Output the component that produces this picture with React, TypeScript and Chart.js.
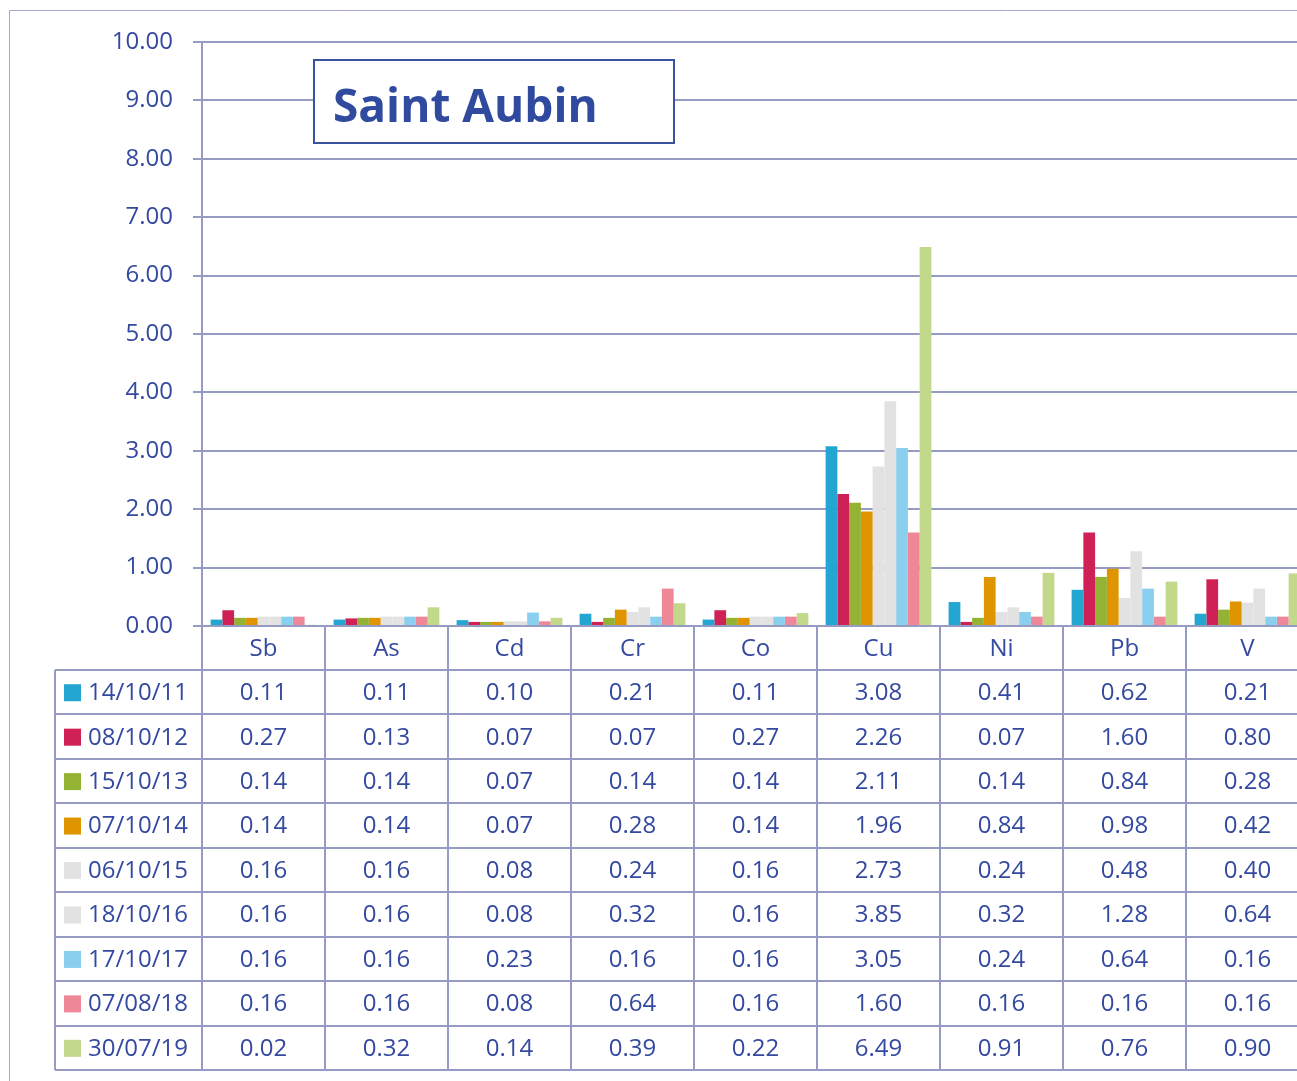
import React, { useEffect, useRef } from "react";
import { Chart, registerables } from "chart.js";
Chart.register(...registerables);

const title = "Saint Aubin";
const categories = ["Sb", "As", "Cd", "Cr", "Co", "Cu", "Ni", "Pb", "V"];
const seriesLabels = ["14/10/11", "08/10/12", "15/10/13", "07/10/14", "06/10/15", "18/10/16", "17/10/17", "07/08/18", "30/07/19"];
const seriesColors = ["#23A6D1", "#CF2155", "#94B234", "#DE9500", "#E2E2E2", "#E2E2E2", "#8BCFEE", "#EE8797", "#C2D98C"];
const v2011 = [0.11, 0.11, 0.10, 0.21, 0.11, 3.08, 0.41, 0.62, 0.21];
const v2012 = [0.27, 0.13, 0.07, 0.07, 0.27, 2.26, 0.07, 1.60, 0.80];
const v2013 = [0.14, 0.14, 0.07, 0.14, 0.14, 2.11, 0.14, 0.84, 0.28];
const v2014 = [0.14, 0.14, 0.07, 0.28, 0.14, 1.96, 0.84, 0.98, 0.42];
const v2015 = [0.16, 0.16, 0.08, 0.24, 0.16, 2.73, 0.24, 0.48, 0.40];
const v2016 = [0.16, 0.16, 0.08, 0.32, 0.16, 3.85, 0.32, 1.28, 0.64];
const v2017 = [0.16, 0.16, 0.23, 0.16, 0.16, 3.05, 0.24, 0.64, 0.16];
const v2018 = [0.16, 0.16, 0.08, 0.64, 0.16, 1.60, 0.16, 0.16, 0.16];
const v2019 = [0.02, 0.32, 0.14, 0.39, 0.22, 6.49, 0.91, 0.76, 0.90];
const seriesValues = [v2011, v2012, v2013, v2014, v2015, v2016, v2017, v2018, v2019];
const yMin = 0;
const yMax = 10;
const yStep = 1;

const FONT = "'Open Sans', 'Noto Sans', sans-serif";
const TEXT = "#3449A0";
const LINE = "#959BC2";

const framePlugin = {
  id: "frame",
  beforeDraw(chart: any) {
    const ctx = chart.ctx;
    ctx.save();
    ctx.fillStyle = "#ffffff";
    ctx.fillRect(0, 0, chart.width, chart.height);
    ctx.strokeStyle = "#A3A9CC";
    ctx.lineWidth = 1;
    ctx.beginPath();
    ctx.moveTo(9.5, chart.height);
    ctx.lineTo(9.5, 10.5);
    ctx.lineTo(chart.width, 10.5);
    ctx.stroke();
    ctx.restore();
  },
};

const tablePlugin = {
  id: "dataTable",
  afterDraw(chart: any) {
    const ctx = chart.ctx;
    const area = chart.chartArea;
    const n = categories.length;
    const cw = (area.right - area.left) / n;
    const top = area.bottom;
    const headerH = 44;
    const rowH = 44.45;
    const tableLeft = 55;
    const bottom = top + headerH + rowH * seriesLabels.length;
    ctx.save();
    ctx.strokeStyle = LINE;
    ctx.lineWidth = 2;
    ctx.beginPath();
    for (let i = 0; i <= n; i++) {
      const x = Math.round(area.left + i * cw);
      ctx.moveTo(x, top);
      ctx.lineTo(x, bottom);
    }
    for (let r = 0; r <= seriesLabels.length; r++) {
      const y = Math.round(top + headerH + r * rowH);
      ctx.moveTo(tableLeft, y);
      ctx.lineTo(chart.width, y);
    }
    ctx.moveTo(tableLeft, top + headerH);
    ctx.lineTo(tableLeft, bottom);
    ctx.stroke();

    ctx.fillStyle = TEXT;
    ctx.font = `24px ${FONT}`;
    ctx.textBaseline = "middle";
    ctx.textAlign = "center";
    categories.forEach((c, i) => {
      ctx.fillText(c, area.left + (i + 0.5) * cw, top + headerH / 2 + 1);
    });
    seriesLabels.forEach((lab, r) => {
      const cy = top + headerH + (r + 0.5) * rowH + 1;
      ctx.fillStyle = seriesColors[r];
      ctx.fillRect(64, cy - 9, 17, 17);
      ctx.fillStyle = TEXT;
      ctx.textAlign = "left";
      ctx.fillText(lab, 88, cy);
      ctx.textAlign = "center";
      seriesValues[r].forEach((v, i) => {
        ctx.fillText(v.toFixed(2), area.left + (i + 0.5) * cw, cy);
      });
    });

    // title box
    ctx.fillStyle = "#ffffff";
    ctx.fillRect(313, 59, 361, 84);
    ctx.strokeStyle = "#3A52A0";
    ctx.lineWidth = 2;
    ctx.strokeRect(314, 60, 360, 83);
    ctx.fillStyle = "#2F4A9E";
    ctx.font = `bold 46px ${FONT}`;
    ctx.textAlign = "left";
    ctx.textBaseline = "alphabetic";
    ctx.fillText(title, 333, 122);
    ctx.restore();
  },
};

export default function App() {
  const ref = useRef<HTMLCanvasElement>(null);
  useEffect(() => {
    if (!ref.current) return;
    const chart = new Chart(ref.current, {
      type: "bar",
      data: {
        labels: categories,
        datasets: seriesLabels.map((label, i) => ({
          label,
          data: seriesValues[i],
          backgroundColor: seriesColors[i],
          borderWidth: 0,
          barPercentage: 1,
          categoryPercentage: 0.86,
        })),
      },
      options: {
        animation: false,
        responsive: false,
        devicePixelRatio: 1,
        layout: { padding: { left: 0, top: 42, right: 31, bottom: 455 } },
        plugins: { legend: { display: false }, tooltip: { enabled: false }, title: { display: false } },
        scales: {
          x: {
            grid: { display: false },
            border: { display: false },
            ticks: { display: false },
            afterFit: (s: any) => { s.height = 0; },
          },
          y: {
            min: yMin,
            max: yMax,
            ticks: {
              stepSize: yStep,
              padding: 20,
              color: TEXT,
              font: { family: FONT, size: 24 },
              callback: (v: any) => Number(v).toFixed(2),
            },
            grid: { color: LINE, lineWidth: 2, tickLength: 9, drawTicks: true },
            border: { display: true, color: LINE, width: 2 },
            afterFit: (s: any) => { s.width = 202; },
          },
        },
      },
      plugins: [framePlugin, tablePlugin],
    });
    return () => chart.destroy();
  }, []);
  return (
    <div style={{ position: "fixed", left: 0, top: 0, width: 1297, height: 1081, overflow: "hidden", background: "#fff" }}>
      <canvas ref={ref} width={1340} height={1081} style={{ position: "absolute", left: 0, top: 0, display: "block" }} />
    </div>
  );
}
